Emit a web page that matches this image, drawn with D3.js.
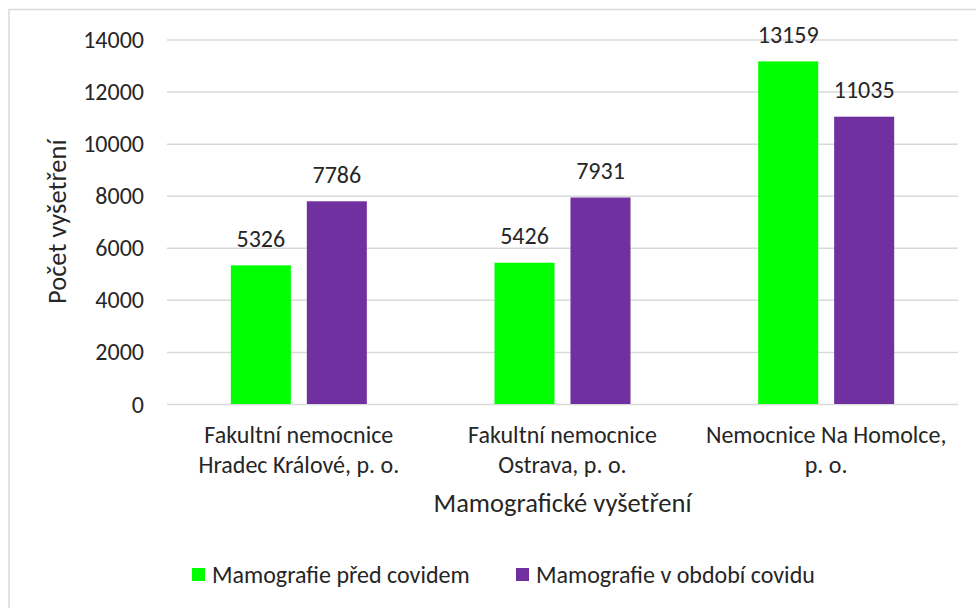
<!DOCTYPE html>
<html>
  <head>
    <meta charset="utf-8">
    <title>Mamografické vyšetření</title>
    <script src="https://cdn.jsdelivr.net/npm/d3@7"></script>
    <style>
      body { margin: 0; background: #fff; }
      svg { display: block; font-family: Carlito, Calibri, Lato, sans-serif; }
      text { fill: #262626; }
      .grid line { stroke: #d9d9d9; stroke-width: 1.5px; }
      .grid .domain { display: none; }
    </style>
  </head>

  <body>
    <svg id="chart" width="976" height="608"></svg>

    <script>
      // data
      const hospitals = [
        ["Fakultní nemocnice", "Hradec Králové, p. o."],
        ["Fakultní nemocnice", "Ostrava, p. o."],
        ["Nemocnice Na Homolce,", "p. o."]
      ];
      const seriesNames = ["Mamografie před covidem", "Mamografie v období covidu"];
      const beforeCovid = [5326, 5426, 13159];
      const duringCovid = [7786, 7931, 11035];
      const yTicks = [0, 2000, 4000, 6000, 8000, 10000, 12000, 14000];
      const colours = ["#00ff00", "#7030a0"];

      const rows = hospitals.map((h, i) => ({
        key: i,
        label: h,
        values: [beforeCovid[i], duringCovid[i]]
      }));

      // elements
      const chart = d3.select("#chart");
      const width = 976;
      const margin = { top: 39.5, right: 18, bottom: 204, left: 167 };
      const height = 608;
      const labelSize = "24px";
      const titleSize = "26.5px";

      chart.append("rect")
        .attr("x", 9)
        .attr("y", 9.5)
        .attr("width", 1000)
        .attr("height", 700)
        .attr("fill", "none")
        .attr("stroke", "#d9d9d9")
        .attr("stroke-width", 1.5);

      const y = d3.scaleLinear()
        .domain([0, 14000])
        .range([height - margin.bottom, margin.top]);

      const x0 = d3.scaleBand()
        .domain(rows.map(d => d.key))
        .range([margin.left, width - margin.right]);

      const x1 = d3.scaleBand()
        .domain([0, 1])
        .range([(x0.bandwidth() - 136) / 2, (x0.bandwidth() + 136) / 2])
        .paddingInner(0.21);

      // gridlines
      chart.append("g")
        .attr("class", "grid")
        .attr("transform", "translate(" + margin.left + ", 0)")
        .call(d3.axisLeft(y)
          .tickValues(yTicks)
          .tickSizeInner(margin.left + margin.right - width)
          .tickSizeOuter(0)
          .tickFormat(""));

      // tick labels
      chart.append("g")
        .selectAll("text")
        .data(yTicks)
        .join("text")
          .attr("x", 144)
          .attr("y", d => y(d) + 8.5)
          .attr("text-anchor", "end")
          .style("font-size", labelSize)
          .text(d => d);

      // bars
      const groups = chart.append("g")
        .selectAll("g")
        .data(rows)
        .join("g")
          .attr("transform", d => "translate(" + x0(d.key) + ", 0)");

      groups.selectAll("rect")
        .data(d => d.values)
        .join("rect")
          .attr("x", (d, i) => x1(i))
          .attr("y", d => y(d))
          .attr("width", x1.bandwidth())
          .attr("height", d => y(0) - y(d))
          .attr("fill", (d, i) => colours[i]);

      groups.selectAll(".value")
        .data(d => d.values)
        .join("text")
          .attr("class", "value")
          .attr("x", (d, i) => x1(i) + x1.bandwidth() / 2)
          .attr("y", d => y(d) - 18.5)
          .attr("text-anchor", "middle")
          .style("font-size", labelSize)
          .text(d => d);

      // category labels
      groups.append("text")
        .attr("x", x0.bandwidth() / 2)
        .attr("text-anchor", "middle")
        .style("font-size", labelSize)
        .selectAll("tspan")
        .data(d => d.label)
        .join("tspan")
          .attr("x", x0.bandwidth() / 2)
          .attr("y", (d, i) => 443 + i * 29.5)
          .text(d => d);

      // axis titles
      chart.append("text")
        .attr("x", (margin.left + width - margin.right) / 2)
        .attr("y", 511.5)
        .attr("text-anchor", "middle")
        .style("font-size", titleSize)
        .text("Mamografické vyšetření");

      chart.append("text")
        .attr("transform", "translate(66, " + (y(7000)) + ") rotate(-90)")
        .attr("text-anchor", "middle")
        .style("font-size", titleSize)
        .text("Počet vyšetření");

      // legend
      const legendX = [192, 516];
      const legend = chart.append("g")
        .selectAll("g")
        .data(seriesNames)
        .join("g")
          .attr("transform", (d, i) => "translate(" + legendX[i] + ", 568)");

      legend.append("rect")
        .attr("width", 13)
        .attr("height", 13)
        .attr("fill", (d, i) => colours[i]);

      legend.append("text")
        .attr("x", 20)
        .attr("y", 14.5)
        .style("font-size", labelSize)
        .text(d => d);
    </script>
  </body>
</html>
